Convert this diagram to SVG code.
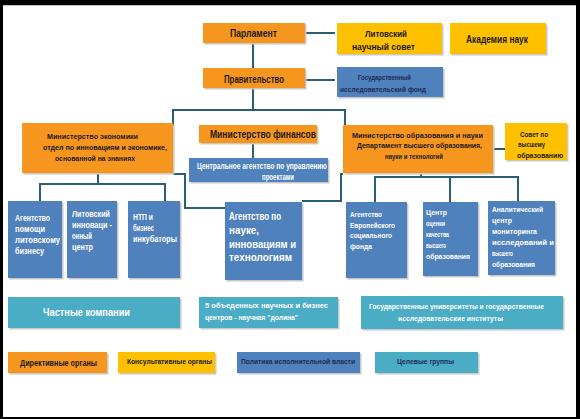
<svg xmlns="http://www.w3.org/2000/svg" width="580" height="419" viewBox="0 0 580 419">
<defs>
<style>
.or{fill:#F7961E}
.ye{fill:#FFC000}
.bl{fill:#4F81BD}
.lb{fill:#4BACC6}
.sh{fill:#C8C8C8}
.c{fill:none;stroke:#2B5E74;stroke-width:2}
text{font-family:"Liberation Sans",Arial,sans-serif;font-weight:bold}
.d{fill:#1A1A1A}
.w{fill:#FFFFFF}
.n{fill:#1F2A55}
</style>
</defs>
<rect x="0" y="0" width="580" height="419" fill="#000"/>
<rect x="3" y="5" width="573" height="412" fill="#FFFFFF"/>
<line x1="3" y1="5.5" x2="576" y2="5.5" stroke="#BFBFBF" stroke-width="1"/>

<g id="connectors">
<path class="c" d="M305,33 H335"/>
<path class="c" d="M305,80 H335"/>
<path class="c" d="M253,43 V68"/>
<path class="c" d="M253,88 V110"/>
<path class="c" d="M173,125 V110 H345 V125"/>
<path class="c" d="M253,143 V158"/>
<path class="c" d="M173,174 H185 V208 H225"/>
<path class="c" d="M343,174 H341 V201 H302"/>
<path class="c" d="M493,149 H505"/>
<path class="c" d="M98,173 V184"/>
<path class="c" d="M40,201 V184 H165 V201"/>
<path class="c" d="M421,173 V177"/>
<path class="c" d="M375,202 V177 H518 V202"/>
<path class="c" d="M450,177 V202"/>
</g>

<g id="parlament">
<rect class="sh" x="204.5" y="24.5" width="102" height="20"/>
<rect class="or" x="203" y="23" width="102" height="20"/>
<text class="d" x="230" y="37" font-size="10" textLength="47" lengthAdjust="spacingAndGlyphs">Парламент</text>
</g>
<g id="lit-council">
<rect class="sh" x="338.5" y="24.5" width="105" height="31"/>
<rect class="ye" x="337" y="23" width="105" height="31"/>
<text class="d" x="365" y="36.5" font-size="9.5" textLength="42" lengthAdjust="spacingAndGlyphs">Литовский</text>
<text class="d" x="352" y="50" font-size="9.5" textLength="63" lengthAdjust="spacingAndGlyphs">научный  совет</text>
</g>
<g id="academy">
<rect class="sh" x="451.5" y="24.5" width="96" height="31"/>
<rect class="ye" x="450" y="23" width="96" height="31"/>
<text class="d" x="466" y="42.5" font-size="10" textLength="62" lengthAdjust="spacingAndGlyphs">Академия наук</text>
</g>
<g id="government">
<rect class="sh" x="204.5" y="69.5" width="102" height="20"/>
<rect class="or" x="203" y="68" width="102" height="20"/>
<text class="d" x="224" y="82.5" font-size="10" textLength="60" lengthAdjust="spacingAndGlyphs">Правительство</text>
</g>
<g id="research-fund">
<rect class="sh" x="338.5" y="68.5" width="106" height="30"/>
<rect class="bl" x="337" y="67" width="106" height="30"/>
<text class="n" x="358" y="80" font-size="8" textLength="53" lengthAdjust="spacingAndGlyphs">Государственный</text>
<text class="n" x="340" y="92" font-size="8" textLength="86" lengthAdjust="spacingAndGlyphs">исследовательский фонд</text>
</g>

<g id="min-economy">
<rect class="sh" x="23.5" y="124.5" width="151" height="50"/>
<rect class="or" x="22" y="123" width="151" height="50"/>
<text class="d" x="47" y="139" font-size="8" textLength="91" lengthAdjust="spacingAndGlyphs">Министерство экономики</text>
<text class="d" x="43" y="150" font-size="8" textLength="124" lengthAdjust="spacingAndGlyphs">отдел по инновациям и экономике,</text>
<text class="d" x="55" y="161" font-size="8" textLength="80" lengthAdjust="spacingAndGlyphs">основанной на знаниях</text>
</g>
<g id="min-finance">
<rect class="sh" x="200.5" y="126.5" width="118" height="18"/>
<rect class="or" x="199" y="125" width="118" height="18"/>
<text class="d" x="210" y="137.5" font-size="10" textLength="106" lengthAdjust="spacingAndGlyphs">Министерство финансов</text>
</g>
<g id="central-agency">
<rect class="sh" x="190.5" y="159.5" width="139" height="24"/>
<rect class="bl" x="189" y="158" width="139" height="24"/>
<text class="w" x="197" y="169" font-size="8.5" textLength="130" lengthAdjust="spacingAndGlyphs">Центральное агентство по управлению</text>
<text class="w" x="262" y="179.5" font-size="8.5" textLength="32" lengthAdjust="spacingAndGlyphs">проектами</text>
</g>
<g id="min-education">
<rect class="sh" x="344.5" y="126.5" width="150" height="48"/>
<rect class="or" x="343" y="125" width="150" height="48"/>
<text class="d" x="352" y="138" font-size="8" textLength="131" lengthAdjust="spacingAndGlyphs">Министерство образования и науки</text>
<text class="d" x="357" y="148" font-size="8" textLength="125" lengthAdjust="spacingAndGlyphs">Департамент высшего образования,</text>
<text class="d" x="385" y="158.5" font-size="8" textLength="58" lengthAdjust="spacingAndGlyphs">науки и технологий</text>
</g>
<g id="higher-ed-council">
<rect class="sh" x="506.5" y="124.5" width="62" height="37"/>
<rect class="ye" x="505" y="123" width="62" height="37"/>
<text class="d" x="520" y="137" font-size="8" textLength="28" lengthAdjust="spacingAndGlyphs">Совет по</text>
<text class="d" x="518" y="147" font-size="8" textLength="27" lengthAdjust="spacingAndGlyphs">высшему</text>
<text class="d" x="517" y="157.5" font-size="8" textLength="46" lengthAdjust="spacingAndGlyphs">образованию</text>
</g>

<g id="agency-lit-business">
<rect class="sh" x="9.5" y="202.5" width="54" height="77"/>
<rect class="bl" x="8" y="201" width="54" height="77"/>
<text class="w" x="15" y="221" font-size="8.5" textLength="35" lengthAdjust="spacingAndGlyphs">Агентство</text>
<text class="w" x="15" y="232" font-size="8.5" textLength="30" lengthAdjust="spacingAndGlyphs">помощи</text>
<text class="w" x="15" y="243" font-size="8.5" textLength="45" lengthAdjust="spacingAndGlyphs">литовскому</text>
<text class="w" x="15" y="254" font-size="8.5" textLength="29" lengthAdjust="spacingAndGlyphs">бизнесу</text>
</g>
<g id="lit-innovation-center">
<rect class="sh" x="68.5" y="202.5" width="50" height="77"/>
<rect class="bl" x="67" y="201" width="50" height="77"/>
<text class="w" x="72" y="217" font-size="8.5" textLength="38" lengthAdjust="spacingAndGlyphs">Литовский</text>
<text class="w" x="72" y="228" font-size="8.5" textLength="40" lengthAdjust="spacingAndGlyphs">инноваци -</text>
<text class="w" x="72" y="239" font-size="8.5" textLength="20" lengthAdjust="spacingAndGlyphs">онный</text>
<text class="w" x="72" y="250" font-size="8.5" textLength="21" lengthAdjust="spacingAndGlyphs">центр</text>
</g>
<g id="stp-incubators">
<rect class="sh" x="129.5" y="202.5" width="52" height="77"/>
<rect class="bl" x="128" y="201" width="52" height="77"/>
<text class="w" x="133" y="220" font-size="8.5" textLength="20" lengthAdjust="spacingAndGlyphs">НТП и</text>
<text class="w" x="133" y="231" font-size="8.5" textLength="21" lengthAdjust="spacingAndGlyphs">бизнес</text>
<text class="w" x="133" y="242" font-size="8.5" textLength="44" lengthAdjust="spacingAndGlyphs">инкубаторы</text>
</g>
<g id="agency-science">
<rect class="sh" x="226.5" y="203.5" width="77" height="78"/>
<rect class="bl" x="225" y="202" width="77" height="78"/>
<text class="w" x="229" y="220" font-size="11" textLength="52" lengthAdjust="spacingAndGlyphs">Агентство по</text>
<text class="w" x="229" y="234" font-size="11" textLength="30" lengthAdjust="spacingAndGlyphs">науке,</text>
<text class="w" x="229" y="248" font-size="11" textLength="67" lengthAdjust="spacingAndGlyphs">инновациям и</text>
<text class="w" x="229" y="261" font-size="11" textLength="63" lengthAdjust="spacingAndGlyphs">технологиям</text>
</g>
<g id="esf-agency">
<rect class="sh" x="347.5" y="203.5" width="61" height="76"/>
<rect class="bl" x="346" y="202" width="61" height="76"/>
<text class="w" x="350" y="217" font-size="8" textLength="32" lengthAdjust="spacingAndGlyphs">Агентство</text>
<text class="w" x="350" y="227.5" font-size="8" textLength="45" lengthAdjust="spacingAndGlyphs">Европейского</text>
<text class="w" x="350" y="238" font-size="8" textLength="42" lengthAdjust="spacingAndGlyphs">социального</text>
<text class="w" x="350" y="248.5" font-size="8" textLength="22" lengthAdjust="spacingAndGlyphs">фонда</text>
</g>
<g id="quality-center">
<rect class="sh" x="424.5" y="203.5" width="55" height="74"/>
<rect class="bl" x="423" y="202" width="55" height="74"/>
<text class="w" x="426" y="215" font-size="8" textLength="21" lengthAdjust="spacingAndGlyphs">Центр</text>
<text class="w" x="426" y="226" font-size="8" textLength="19" lengthAdjust="spacingAndGlyphs">оценки</text>
<text class="w" x="426" y="237" font-size="8" textLength="23" lengthAdjust="spacingAndGlyphs">качества</text>
<text class="w" x="426" y="247.5" font-size="8" textLength="20" lengthAdjust="spacingAndGlyphs">высшего</text>
<text class="w" x="426" y="258.5" font-size="8" textLength="44" lengthAdjust="spacingAndGlyphs">образования</text>
</g>
<g id="analytic-center">
<rect class="sh" x="489.5" y="202.5" width="67" height="74"/>
<rect class="bl" x="488" y="201" width="67" height="74"/>
<text class="w" x="492" y="212" font-size="8" textLength="51" lengthAdjust="spacingAndGlyphs">Аналитический</text>
<text class="w" x="492" y="223" font-size="8" textLength="20" lengthAdjust="spacingAndGlyphs">центр</text>
<text class="w" x="492" y="234" font-size="8" textLength="45" lengthAdjust="spacingAndGlyphs">мониторинга</text>
<text class="w" x="492" y="245" font-size="8" textLength="62" lengthAdjust="spacingAndGlyphs">исследований и</text>
<text class="w" x="492" y="256" font-size="8" textLength="21" lengthAdjust="spacingAndGlyphs">высшего</text>
<text class="w" x="492" y="267" font-size="8" textLength="43" lengthAdjust="spacingAndGlyphs">образования</text>
</g>

<g id="private-companies">
<rect class="sh" x="9.5" y="298.5" width="172" height="31"/>
<rect class="lb" x="8" y="297" width="172" height="31"/>
<text class="w" x="43" y="316" font-size="10.5" textLength="87" lengthAdjust="spacingAndGlyphs">Частные компании</text>
</g>
<g id="science-valleys">
<rect class="sh" x="200.5" y="298.5" width="139" height="31"/>
<rect class="lb" x="199" y="297" width="139" height="31"/>
<text class="w" x="205" y="308" font-size="8" textLength="123" lengthAdjust="spacingAndGlyphs">5 объеденных научных и бизнес</text>
<text class="w" x="205" y="319.5" font-size="8" textLength="93" lengthAdjust="spacingAndGlyphs">центров - научная "долина"</text>
</g>
<g id="state-universities">
<rect class="sh" x="362.5" y="297.5" width="202" height="33"/>
<rect class="lb" x="361" y="296" width="202" height="33"/>
<text class="w" x="369" y="309" font-size="8" textLength="175" lengthAdjust="spacingAndGlyphs">Государственные университеты и государственные</text>
<text class="w" x="398" y="321" font-size="8" textLength="105" lengthAdjust="spacingAndGlyphs">исследовательские институты</text>
</g>

<g id="legend-directive">
<rect class="sh" x="9.5" y="353.5" width="99" height="21"/>
<rect class="or" x="8" y="352" width="99" height="21"/>
<text class="d" x="20" y="365.5" font-size="8.5" textLength="77" lengthAdjust="spacingAndGlyphs">Директивные органы</text>
</g>
<g id="legend-consultative">
<rect class="sh" x="119.5" y="353.5" width="97" height="21"/>
<rect class="ye" x="118" y="352" width="97" height="21"/>
<text class="d" x="127" y="364" font-size="8" textLength="85" lengthAdjust="spacingAndGlyphs">Консультативные органы</text>
</g>
<g id="legend-executive">
<rect class="sh" x="238.5" y="353.5" width="123" height="21"/>
<rect class="bl" x="237" y="352" width="123" height="21"/>
<text class="n" x="241" y="364" font-size="8" textLength="114" lengthAdjust="spacingAndGlyphs">Политика исполнительной власти</text>
</g>
<g id="legend-target">
<rect class="sh" x="376.5" y="353.5" width="103" height="21"/>
<rect class="lb" x="375" y="352" width="103" height="21"/>
<text class="n" x="397" y="364" font-size="8" textLength="57" lengthAdjust="spacingAndGlyphs">Целевые группы</text>
</g>
</svg>
